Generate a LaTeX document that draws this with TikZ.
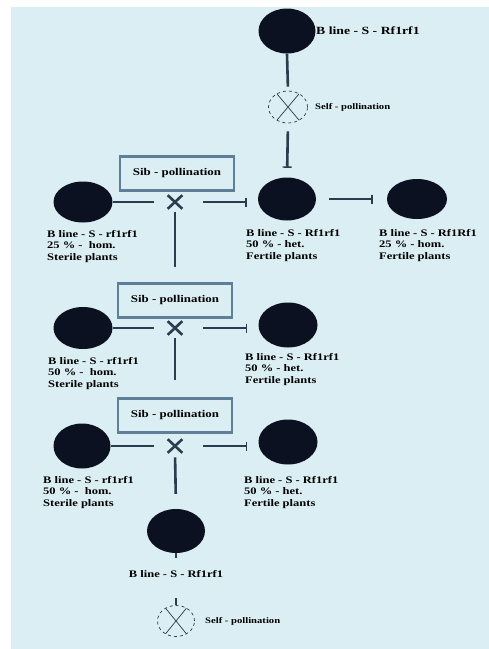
\documentclass[tikz,border=0pt]{standalone}
\usepackage{fontspec}
\setmainfont{Liberation Serif}[FakeStretch=1.25]
\usetikzlibrary{arrows.meta,shapes.geometric,shapes.misc}
\definecolor{bg}{HTML}{DAEEF3}
\definecolor{ink}{HTML}{0B1120}
\definecolor{ln}{HTML}{2C3B4D}
\definecolor{bx}{HTML}{5F7F98}
\begin{document}
\begin{tikzpicture}[x=1pt,y=-1pt,
  plant/.style n args={2}{ellipse,fill=ink,inner sep=0pt,minimum width=#1,minimum height=#2},
  selfp/.style n args={2}{ellipse,draw=ln,dashed,line width=0.7pt,inner sep=0pt,minimum width=#1,minimum height=#2,
     path picture={\draw[ln,line width=0.7pt,solid] (path picture bounding box.north west)+(1pt,6pt) -- ([xshift=-1pt,yshift=-6pt]path picture bounding box.south east);
                   \draw[ln,line width=0.7pt,solid] ([xshift=1pt,yshift=-6pt]path picture bounding box.south west) -- ([xshift=-1pt,yshift=6pt]path picture bounding box.north east);}},
  sibbox/.style={rectangle,draw=bx,line width=2.5pt,fill=bg,minimum width=114pt,minimum height=34pt,inner sep=0pt,
     font=\fontsize{10.3}{12}\selectfont\bfseries},
  crossx/.style={cross out,draw=ln,line width=2.6pt,minimum width=12pt,minimum height=11pt,inner sep=0pt},
  lab/.style={font=\fontsize{10}{11.5}\selectfont\bfseries,align=left,anchor=north west,inner sep=0pt},
  selflab/.style={font=\fontsize{8.5}{10}\selectfont\bfseries,anchor=west,inner sep=0pt},
  hline/.style={draw=ln,line width=1.6pt},
  vline/.style={draw=ln,line width=2.6pt},
  bartip/.style={-{Bar[width=9pt,line width=1.4pt]}}
]
\fill[white] (0,0) rectangle (489,649);
\fill[bg] (11,7) rectangle (489,649);

% top
\node[plant={57pt}{45pt}] (T) at (287,31) {};
\node[font=\fontsize{11}{13}\selectfont\bfseries,anchor=west,inner sep=0pt] (Tl) at (316,31) {B line - S - Rf1rf1};
\node[selfp={39pt}{32pt}] (S1) at (288,107) {};
\node[selflab] (S1l) at (315,107) {Self - pollination};

% row 1
\node[sibbox] (B1) at (177,173.5) {Sib - pollination};
\node[plant={59pt}{41pt}] (L1) at (83,202) {};
\node[crossx] (X1) at (175,202) {};
\node[plant={58pt}{43pt}] (M1) at (287,199) {};
\node[plant={60pt}{40pt}] (R1) at (417,199) {};
\node[lab] (L1l) at (47,230) {B line - S - rf1rf1\\25 \% -\ \ hom.\\Sterile plants};
\node[lab] (M1l) at (246,229) {B line - S - Rf1rf1\\50 \% - het.\\Fertile plants};
\node[lab] (R1l) at (379,229) {B line - S - Rf1Rf1\\25 \% - hom.\\Fertile plants};
\coordinate (V1) at (175,267);

% row 2
\node[sibbox] (B2) at (175,300.5) {Sib - pollination};
\node[plant={59pt}{42pt}] (L2) at (83,328) {};
\node[crossx] (X2) at (175,328) {};
\node[plant={59pt}{45pt}] (R2) at (288,325) {};
\node[lab] (L2l) at (48,357) {B line - S - rf1rf1\\50 \% -\ \ hom.\\Sterile plants};
\node[lab] (R2l) at (245,353) {B line - S - Rf1rf1\\50 \% - het.\\Fertile plants};
\coordinate (V2) at (175,380);

% row 3
\node[sibbox] (B3) at (175,415.5) {Sib - pollination};
\node[plant={57pt}{45pt}] (L3) at (82,446) {};
\node[crossx] (X3) at (175,446) {};
\node[plant={59pt}{45pt}] (R3) at (288,442) {};
\node[lab] (L3l) at (43,476) {B line - S - rf1rf1\\50 \% -\ \ hom.\\Sterile plants};
\node[lab] (R3l) at (244,476) {B line - S - Rf1rf1\\50 \% - het.\\Fertile plants};

% bottom
\node[plant={58pt}{44pt}] (Bt) at (176,531) {};
\node[font=\fontsize{10}{12}\selectfont\bfseries,fill=bg,inner xsep=2pt,inner ysep=13pt] (Btl) at (176,574.5) {B line - S - Rf1rf1};
\node[selfp={37pt}{31pt}] (S2) at (176,621) {};
\node[selflab] (S2l) at (205,621) {Self - pollination};

% connectors
\draw[vline,shorten >=4pt] (T.south) -- (S1.north);
\draw[vline,bartip,shorten <=8pt,shorten >=9.5pt] (S1.south) -- (M1.north);
\draw[hline,bartip,shorten <=13pt,shorten >=14pt] (M1.east) -- (R1.west);

\draw[hline,shorten >=13.5pt] (L1.east) -- (X1.west);
\draw[hline,bartip,shorten <=21pt,shorten >=11pt] (X1.east) -- (X1.east -| M1.west);
\draw[vline,shorten <=3.5pt] (X1.south) -- (V1);

\draw[hline,shorten >=13.5pt] (L2.east) -- (X2.west);
\draw[hline,bartip,shorten <=21pt,shorten >=11pt] (X2.east) -- (X2.east -| R2.west);
\draw[vline,shorten <=3.5pt] (X2.south) -- (V2);

\draw[hline,shorten >=13.5pt] (L3.east) -- (X3.west);
\draw[hline,bartip,shorten <=21pt,shorten >=11pt] (X3.east) -- (X3.east -| R3.west);
\draw[vline,shorten <=4.5pt,shorten >=15pt] (X3.south) -- (Bt.north);

\draw[vline] (Bt.south) -- (Btl.north);
\draw[vline,shorten <=7pt] (Btl.south) -- (S2.north);
\end{tikzpicture}
\end{document}
